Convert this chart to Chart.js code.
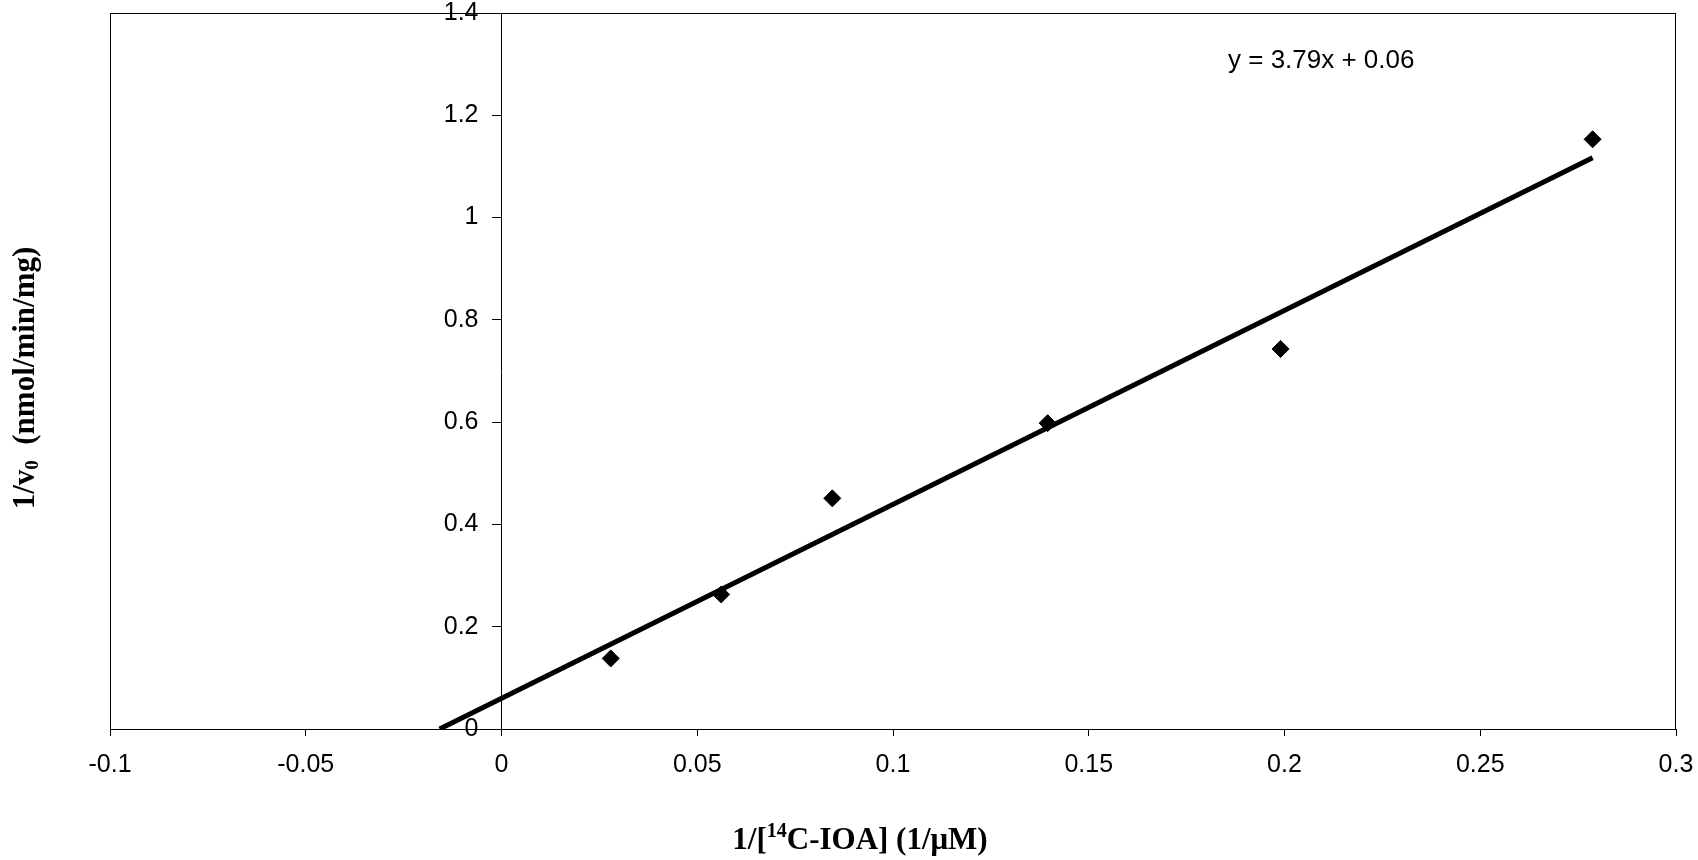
<!DOCTYPE html>
<html lang="en">
<head>
<meta charset="UTF-8">
<title>1/v0 vs 1/[14C-IOA]</title>
<style>
  html, body { margin: 0; padding: 0; background: #fff; }
  #wrap { width: 1698px; height: 860px; position: relative; }
</style>
</head>
<body>
<div id="wrap"><canvas id="myChart"></canvas></div>

<script src="https://cdn.jsdelivr.net/npm/chart.js@4.4.1/dist/chart.umd.min.js"></script>
<script>
// measured points (1/[S], 1/v0)
const invConc = [0.0279, 0.0561, 0.0845, 0.1395, 0.1990, 0.2787];
const invRate = [0.138, 0.263, 0.451, 0.598, 0.743, 1.153];

// trendline ends as drawn in the figure
const fitX = [-0.0158, 0.2787];
const fitY = [0, 1.117];

const xTicks = [-0.1, -0.05, 0, 0.05, 0.1, 0.15, 0.2, 0.25, 0.3];
const yTicks = [0, 0.2, 0.4, 0.6, 0.8, 1, 1.2, 1.4];

const eqText = 'y = 3.79x + 0.06';

const SANS = '"Liberation Sans", Arial, sans-serif';
const SERIF = '"Liberation Serif", "Times New Roman", serif';

const Y_TICK_LEN = 9;
const Y_TICK_PAD = 14;

function fmt(v) {
    return String(+(+v).toFixed(2));
}

// labels are allowed to hang over the plot edges, like in the figure
function noLabelPadding(s) {
    s.paddingLeft = 0;
    s.paddingRight = 0;
    s.paddingTop = 0;
    s.paddingBottom = 0;
}

// text with sub/superscript pieces, centred on x
function richText(c, parts, x, y) {
    let w = 0;
    parts.forEach(p => {
        c.font = 'bold ' + p.size + 'px ' + SERIF;
        p.w = c.measureText(p.t).width;
        w += p.w;
    });
    let cx = x - w / 2;
    c.textAlign = 'left';
    c.textBaseline = 'alphabetic';
    parts.forEach(p => {
        c.font = 'bold ' + p.size + 'px ' + SERIF;
        c.fillText(p.t, cx, y + (p.dy || 0));
        cx += p.w;
    });
}

const frameAndTitles = {
    id: 'frameAndTitles',
    beforeDraw(chart) {
        // y axis sits at x = 0; chart.js puts its labels right on the line, so move them left of the ticks
        const items = chart.scales.y.getLabelItems();
        items.forEach(it => {
            if (!it._moved) {
                it.options.translation[0] -= Y_TICK_LEN + Y_TICK_PAD;
                it._moved = true;
            }
        });
    },
    beforeDatasetsDraw(chart) {
        const c = chart.ctx, a = chart.chartArea;
        c.save();
        c.strokeStyle = '#000';
        c.lineWidth = 1;
        c.strokeRect(a.left + 0.5, a.top + 0.5, a.right - a.left - 1, a.bottom - a.top);
        c.restore();
    },
    afterDraw(chart) {
        const c = chart.ctx;
        c.save();
        c.fillStyle = '#000';

        // x title
        richText(c, [
            {t: '1/[', size: 31},
            {t: '14', size: 20, dy: -12},
            {t: 'C-IOA] (1/\u03bcM)', size: 31}
        ], 860, 849);

        // y title, rotated
        c.translate(24, 378);
        c.rotate(-Math.PI / 2);
        richText(c, [
            {t: '1/v', size: 31},
            {t: '0', size: 19, dy: 4},
            {t: '  (nmol/min/mg)', size: 31}
        ], 0, 10);
        c.restore();

        // trendline equation
        c.save();
        c.fillStyle = '#000';
        c.font = '26px ' + SANS;
        c.textAlign = 'left';
        c.textBaseline = 'middle';
        c.fillText(eqText, 1228, 61);
        c.restore();
    }
};

const ctx = document.getElementById('myChart').getContext('2d');
const myChart = new Chart(ctx, {
    type: 'scatter',
    data: {
        datasets: [{
            label: 'data',
            data: invConc.map((x, i) => ({x: x, y: invRate[i]})),
            pointStyle: 'rectRot',
            pointRadius: 8.5,
            pointBackgroundColor: '#000',
            pointBorderColor: '#000',
            pointBorderWidth: 1,
            order: 1
        }, {
            label: 'fit',
            data: fitX.map((x, i) => ({x: x, y: fitY[i]})),
            showLine: true,
            borderColor: '#000',
            borderWidth: 5,
            pointRadius: 0,
            fill: false,
            order: 2
        }]
    },
    plugins: [frameAndTitles],
    options: {
        responsive: true,
        maintainAspectRatio: false,
        animation: false,
        layout: {padding: {left: 110, right: 22, top: 13, bottom: 0}},
        plugins: {
            legend: {display: false},
            tooltip: {enabled: false}
        },
        scales: {
            x: {
                type: 'linear',
                position: 'bottom',
                min: xTicks[0],
                max: xTicks[xTicks.length - 1],
                afterBuildTicks: s => { s.ticks = xTicks.map(v => ({value: v})); },
                afterFit: s => { s.height = 131; noLabelPadding(s); },
                grid: {drawOnChartArea: false, drawTicks: true, tickLength: 7, color: '#000'},
                border: {display: true, color: '#000', width: 1},
                ticks: {
                    color: '#000',
                    padding: 14,
                    maxRotation: 0,
                    font: {family: SANS, size: 25},
                    callback: v => fmt(v)
                }
            },
            y: {
                type: 'linear',
                position: {x: 0},
                min: yTicks[0],
                max: yTicks[yTicks.length - 1],
                afterBuildTicks: s => { s.ticks = yTicks.map(v => ({value: v})); },
                afterFit: noLabelPadding,
                grid: {drawOnChartArea: false, drawTicks: true, tickLength: Y_TICK_LEN, color: '#000'},
                border: {display: true, color: '#000', width: 1},
                ticks: {
                    color: '#000',
                    padding: Y_TICK_PAD,
                    font: {family: SANS, size: 25},
                    callback: v => fmt(v)
                }
            }
        }
    }
});
</script>
</body>
</html>
